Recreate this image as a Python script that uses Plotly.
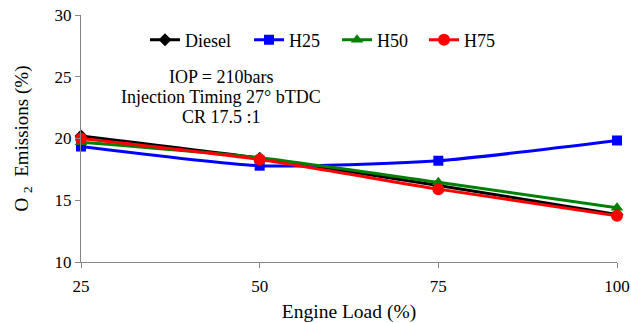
import plotly.graph_objects as go

loads = [25, 50, 75, 100]
diesel = [20.2, 18.4, 16.2, 13.85]
h25 = [19.35, 17.8, 18.2, 19.84]
h50 = [19.7, 18.45, 16.45, 14.4]
h75 = [20.0, 18.3, 15.9, 13.74]
note_lines = ["IOP = 210bars", "Injection Timing 27° bTDC", "CR 17.5 :1"]

series = [
    ("Diesel", diesel, "#000000", "diamond", 10, "legend", 148),
    ("H25", h25, "#0000ff", "square", 10, "legend2", 252),
    ("H50", h50, "#008000", "triangle-up", 11, "legend3", 340),
    ("H75", h75, "#ff0000", "circle", 12, "legend4", 427),
]

SERIF = "Liberation Serif"
L, R, T, B = 81, 14, 15, 61
W, H = 631, 323
pw = W - L - R
ph = H - T - B

fig = go.Figure()
legends = {}
for name, vals, col, sym, sz, lg, lx in series:
    fig.add_trace(go.Scatter(
        x=loads, y=vals, name=name, mode="lines+markers", legend=lg, cliponaxis=False,
        line=dict(color=col, width=3, shape="spline", smoothing=0.6),
        marker=dict(symbol=sym, size=sz, color=col),
    ))
    legends[lg] = dict(orientation="h", x=(lx - 3 - L) / pw, y=1 - (40 - T) / ph,
                       xanchor="left", yanchor="middle", bgcolor="rgba(0,0,0,0)",
                       font=dict(family=SERIF, size=18), itemwidth=30)

fig.update_layout(
    width=W, height=H,
    margin=dict(l=L, r=R, t=T, b=B, autoexpand=False),
    paper_bgcolor="white", plot_bgcolor="white",
    font=dict(family=SERIF, size=17, color="#000000"),
    showlegend=True,
    xaxis=dict(range=[25, 100], tickvals=loads, showline=True, linecolor="#868686",
               ticks="outside", tickcolor="#868686", ticklen=5, ticklabelstandoff=4,
               showgrid=False, zeroline=False, automargin=False,
               title=dict(text="Engine Load (%)", standoff=9, font=dict(family=SERIF, size=19.5)),
               tickfont=dict(family=SERIF, size=17)),
    yaxis=dict(range=[10, 30], tickvals=[10, 15, 20, 25, 30], showline=True,
               linecolor="#868686", ticks="outside", tickcolor="#868686", ticklen=5,
               showgrid=False, zeroline=False, automargin=False,
               title=dict(text="O <sub>2</sub>  Emissions (%)", standoff=20,
                          font=dict(family=SERIF, size=19)),
               tickfont=dict(family=SERIF, size=17)),
    **legends,
)
for i, txt in enumerate(note_lines):
    fig.add_annotation(text=txt, x=(221 - L) / pw, y=1 - (77 + 20 * i - T) / ph,
                       xref="paper", yref="paper", xanchor="center", yanchor="middle",
                       showarrow=False, font=dict(family=SERIF, size=18))
fig.write_html("out.html")
